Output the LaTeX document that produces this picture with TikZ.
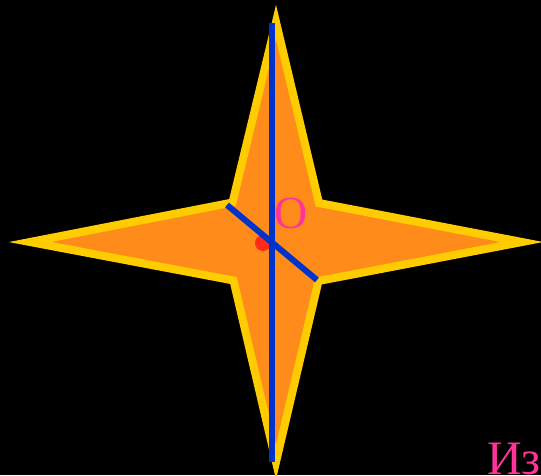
\documentclass[tikz,border=0pt]{standalone}
\usepackage{fontspec}
\setmainfont{Liberation Serif}
\usetikzlibrary{calc}
\definecolor{StarEdge}{HTML}{FFCC00}
\definecolor{StarFill}{HTML}{FF8C1A}
\definecolor{AxisBlue}{HTML}{0033CC}
\definecolor{DotRed}{HTML}{FF2A1A}
\definecolor{LabelPink}{HTML}{FF3399}
\tikzset{
  starbody/.style={draw=StarEdge, fill=StarFill, line width=8pt, line join=miter},
  axisline/.style={draw=AxisBlue, line width=6pt},
  centredot/.style={fill=DotRed},
  tag/.style={font=\fontsize{46}{46}\selectfont, text=LabelPink, inner sep=0pt},
}

\begin{document}
\begin{tikzpicture}[x=1pt,y=-1pt]
  % background, fixes the page
  \path[use as bounding box, fill=black] (0,0) rectangle (541,475);
  % the four-pointed star
  \coordinate (top) at (276,22);
  \coordinate (right) at (522,242);
  \coordinate (bottom) at (276,462);
  \coordinate (left) at (30,242);
  \draw[starbody] (top) -- (319,203) -- (right) -- (318.5,281)
    -- (bottom) -- (233.5,280.5) -- (left) -- (232.5,202.5) -- cycle;
  % centre point
  \fill[centredot] (263,243) circle (8);
  % axis and diagonal
  \coordinate (axtop) at (272,23);
  \coordinate (axbot) at (272,462);
  \coordinate (dgA) at (227,205);
  \coordinate (dgB) at (317,280);
  \draw[axisline] (axtop) -- (axbot);
  \draw[axisline] (dgA) -- (dgB);
  % labels
  \node[tag] (o) at (291,213) {O};
  \node[tag, font=\fontsize{48}{48}\selectfont, anchor=base west] (iz) at (487,474) {Из};
\end{tikzpicture}
\end{document}
